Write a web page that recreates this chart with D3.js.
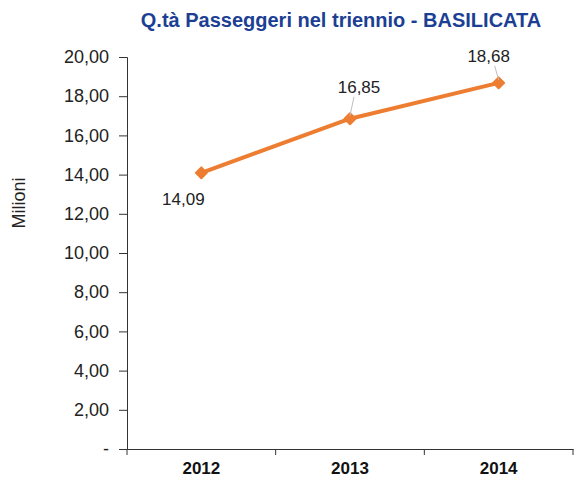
<!DOCTYPE html>
<html>
<head>
<meta charset="utf-8">
<script src="https://cdn.jsdelivr.net/npm/d3@7"></script>
<style>
  body { margin: 0; background: #fff; }
  text { font-family: "Liberation Sans", Arial, sans-serif; }
</style>
</head>
<body>
<div id="chart"></div>
<script>
// dati del grafico
const anni = ["2012", "2013", "2014"];
const passeggeri = [14.09, 16.85, 18.68];
const yTicks = [0, 2, 4, 6, 8, 10, 12, 14, 16, 18, 20];
const titolo = "Q.tà Passeggeri nel triennio - BASILICATA";
const asseY = "Milioni";

const width = 574, height = 479;
const margin = { top: 57, left: 127, bottom: 30, right: 1 };
const iwidth = width - margin.left - margin.right;
const iheight = height - margin.top - margin.bottom;

const svg = d3.select("#chart").append("svg")
  .attr("width", width)
  .attr("height", height);

svg.append("text")
  .attr("x", 341)
  .attr("y", 27)
  .attr("text-anchor", "middle")
  .style("font-size", "20px")
  .style("font-weight", "bold")
  .style("fill", "#1c3f94")
  .text(titolo);

svg.append("text")
  .attr("transform", `translate(25,${margin.top + iheight / 2 - 50}) rotate(-90)`)
  .attr("text-anchor", "middle")
  .style("font-size", "18px")
  .style("fill", "#222")
  .text(asseY);

const g = svg.append("g").attr("transform", `translate(${margin.left},${margin.top})`);

const x = d3.scaleBand().domain(anni).range([0, iwidth]);
const y = d3.scaleLinear().domain([0, 20]).range([iheight, 0]);

const fmt = v => v === 0 ? "-" : d3.format(".2f")(v).replace(".", ",");

// asse y
const ay = g.append("g")
  .call(d3.axisLeft(y).tickValues(yTicks).tickFormat(fmt).tickSize(8).tickPadding(10));
ay.select(".domain").attr("stroke", "#333");
ay.selectAll(".tick line").attr("stroke", "#333");
ay.selectAll("text").style("font-size", "18px").style("fill", "#222")
  .style("font-family", "'Liberation Sans', Arial, sans-serif");

// asse x
const ax = g.append("g")
  .attr("transform", `translate(0,${iheight})`)
  .call(d3.axisBottom(x).tickSize(0).tickPadding(0));
ax.select(".domain").attr("stroke", "#333");
ax.selectAll(".tick text")
  .attr("y", 25)
  .attr("dy", 0)
  .style("font-size", "17px")
  .style("font-weight", "bold")
  .style("fill", "#111")
  .style("font-family", "'Liberation Sans', Arial, sans-serif");
// tick tra le categorie
const bordi = anni.map(d => x(d)).concat([iwidth]);
ax.selectAll(".sep").data(bordi).enter().append("line")
  .attr("x1", d => d).attr("x2", d => d)
  .attr("y1", 0).attr("y2", 6)
  .attr("stroke", "#333");

const punti = anni.map((a, i) => ({ anno: a, v: passeggeri[i] }));
const cx = d => x(d.anno) + x.bandwidth() / 2;

g.append("path")
  .datum(punti)
  .attr("fill", "none")
  .attr("stroke", "#ED7D31")
  .attr("stroke-width", 4)
  .attr("stroke-linejoin", "round")
  .attr("d", d3.line().x(cx).y(d => y(d.v)));

g.selectAll(".mk").data(punti).enter().append("path")
  .attr("transform", d => `translate(${cx(d)},${y(d.v)}) rotate(45)`)
  .attr("d", d3.symbol().type(d3.symbolSquare).size(60))
  .attr("fill", "#ED7D31")
  .attr("stroke", "#ED7D31")
  .attr("stroke-width", 2)
  .attr("stroke-linejoin", "round");

// etichette dati con linee guida
const off = [
  { dx: -18, dy: 32, lead: false },
  { dx: 9, dy: -26, lead: true },
  { dx: -10, dy: -21, lead: true }
];
punti.forEach((d, i) => {
  const px = cx(d), py = y(d.v), o = off[i];
  if (o.lead) {
    g.append("line")
      .attr("x1", px + o.dx - (i === 1 ? 5 : -6)).attr("y1", py + o.dy + 4)
      .attr("x2", px).attr("y2", py - 3)
      .attr("stroke", "#bfbfbf").attr("stroke-width", 1);
  }
  g.append("text")
    .attr("x", px + o.dx)
    .attr("y", py + o.dy)
    .attr("text-anchor", "middle")
    .style("font-size", "17px")
    .style("fill", "#222")
    .text(fmt(d.v));
});
</script>
</body>
</html>
